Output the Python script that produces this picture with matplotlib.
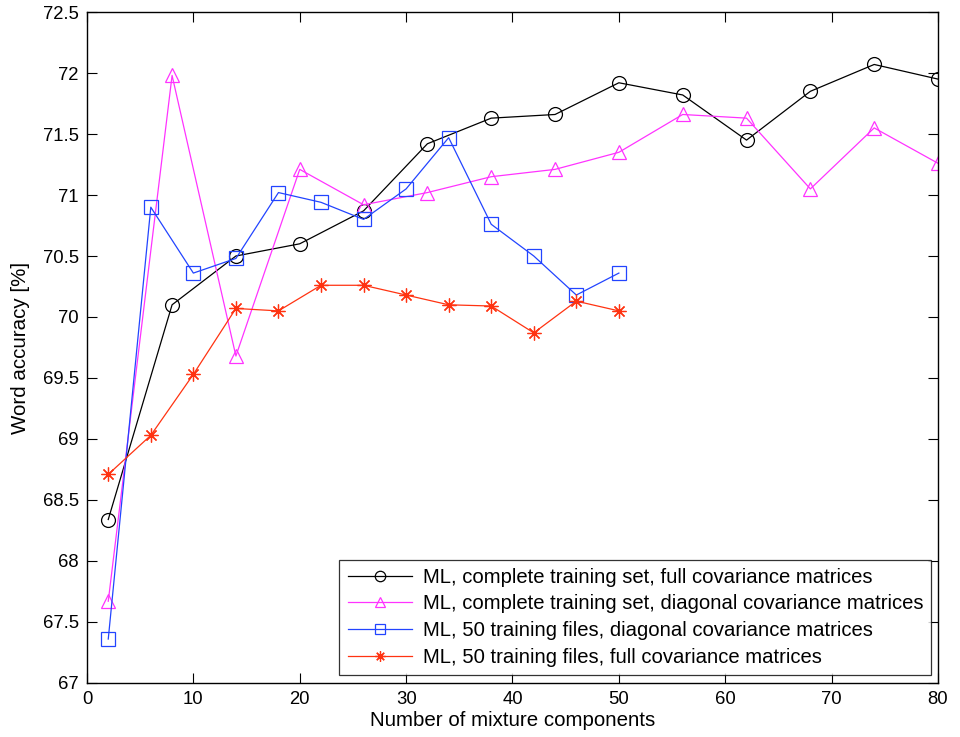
import matplotlib
matplotlib.use("Agg")
import matplotlib.pyplot as plt

plt.rcParams['font.family'] = ['Liberation Sans', 'DejaVu Sans']

# Number of mixture components
x_full = [2, 8, 14, 20, 26, 32, 38, 44, 50, 56, 62, 68, 74, 80]
x_50 = [2, 6, 10, 14, 18, 22, 26, 30, 34, 38, 42, 46, 50]

# Word accuracy [%]
acc_complete_full = [68.34, 70.10, 70.50, 70.60, 70.87, 71.42, 71.63, 71.66,
                     71.92, 71.82, 71.45, 71.85, 72.07, 71.95]
acc_complete_diag = [67.67, 71.98, 69.68, 71.21, 70.92, 71.02, 71.15, 71.21,
                     71.35, 71.66, 71.63, 71.05, 71.55, 71.26]
acc_50_diag = [67.36, 70.90, 70.36, 70.48, 71.02, 70.94, 70.80, 71.05,
               71.47, 70.76, 70.50, 70.18, 70.36]
acc_50_full = [68.71, 69.03, 69.53, 70.07, 70.05, 70.26, 70.26, 70.18,
               70.10, 70.09, 69.87, 70.13, 70.05]

labels = [
    "ML, complete training set, full covariance matrices",
    "ML, complete training set, diagonal covariance matrices",
    "ML, 50 training files, diagonal covariance matrices",
    "ML, 50 training files, full covariance matrices",
]

xticks = list(range(0, 81, 10))
yticks = [67 + 0.5 * i for i in range(12)]
ytick_labels = ["%g" % v for v in yticks]

fig = plt.figure(figsize=(9.6, 7.37), dpi=100)
ax = fig.add_axes([0.0906, 0.0733, 0.8865, 0.9104])

lw = 0.9
ax.plot(x_full, acc_complete_full, color='black', marker='o', ms=10,
        mfc='none', mew=0.9, lw=lw, label=labels[0])
ax.plot(x_full, acc_complete_diag, color='#ff33ff', marker='^', ms=10,
        mfc='none', mew=0.9, lw=lw, label=labels[1])
ax.plot(x_50, acc_50_diag, color='#2244ff', marker='s', ms=10,
        mfc='none', mew=0.9, lw=lw, label=labels[2])
ax.plot(x_50, acc_50_full, color='#ff3311', marker=(8, 2, 0), ms=10,
        mew=0.9, lw=lw, label=labels[3])

ax.set_xlim(0, 80)
ax.set_ylim(67, 72.5)
ax.set_xticks(xticks)
ax.set_yticks(yticks)
ax.set_yticklabels(ytick_labels)
ax.tick_params(direction='in', length=7, width=0.8, top=True, right=True,
               labelsize=13.3, pad=6)
for s in ax.spines.values():
    s.set_linewidth(1.0)

ax.set_xlabel("Number of mixture components", fontsize=14.8, labelpad=2)
ax.set_ylabel("Word accuracy [%]", fontsize=14.8, labelpad=9)

leg = ax.legend(loc='lower right', bbox_to_anchor=(0.992, 0.012),
                fontsize=14.6, frameon=True, fancybox=False, edgecolor='black',
                handlelength=3.2, handletextpad=0.5, borderpad=0.4,
                labelspacing=0.38, borderaxespad=0, markerscale=0.75)
leg.get_frame().set_linewidth(0.9)

fig.savefig("out.png", dpi=100)
